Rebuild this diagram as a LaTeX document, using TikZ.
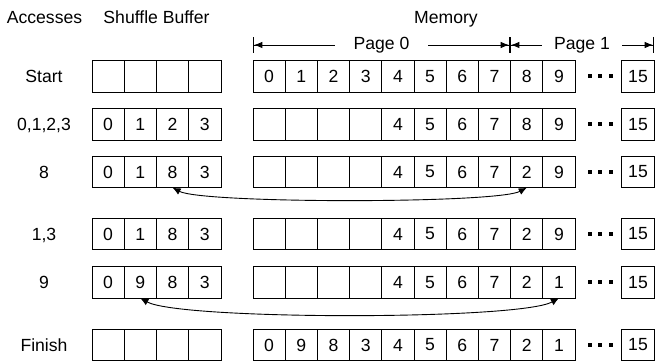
\documentclass[tikz,border=0pt]{standalone}
\usepackage{fontspec}
\setmainfont{Liberation Sans}
\usetikzlibrary{arrows.meta}
\tikzset{
  txt/.style={font=\fontsize{17.6}{20}\selectfont},
  cell/.style={txt, draw, line width=0.9pt, minimum width=32.2pt, minimum height=31.5pt, inner sep=0pt, outer sep=0pt},
  lbl/.style={txt, anchor=base, inner sep=0pt},
  swaparrow/.style={line width=0.9pt, {Latex[length=8pt,width=7pt]}-{Latex[length=8pt,width=7pt]}},
  dimline/.style={line width=0.9pt, {Bar[width=16pt]Latex[length=8.5pt,width=6.5pt]}-{Latex[length=8.5pt,width=6.5pt]Bar[width=16pt]}},
  gaplabel/.style={txt, fill=white, inner ysep=2pt},
  dot/.style={fill, inner sep=0pt, minimum size=4pt, outer sep=0pt}
}
\newcommand\cellrow[4]{%
  \foreach \v [count=\i from 0] in {#3} {\node[cell] (#1b\i) at ({108.125+32.25*\i},#2) {\v};}
  \foreach \v [count=\i from 0] in {#4} {\node[cell] (#1m\i) at ({269.1+32.2*\i},#2) {\v};}
  \node[cell] (#1m15) at (638,#2) {15};
  \node[dot] (#1d1) at (589.5,#2) {};
  \node[dot] (#1d2) at (600,#2) {};
  \node[dot] (#1d3) at (610.5,#2) {};
}
\begin{document}
\begin{tikzpicture}[x=1pt,y=-1pt]
\useasboundingbox (0,0) rectangle (656,363);
% headers
\node[lbl] (hacc) at (44.5,23.3) {Accesses};
\node[lbl] (hbuf) at (156.5,23.3) {Shuffle Buffer};
\node[lbl] (hmem) at (446,23.3) {Memory};
% page dimension lines
\coordinate (p0) at (253,45);
\coordinate (p1) at (510,45);
\coordinate (p2) at (654,45);
\draw[dimline] (p0) -- node[gaplabel, inner xsep=19pt] (pg0) {Page 0} (p1);
\draw[dimline] (p1) -- node[gaplabel, inner xsep=12.5pt] (pg1) {Page 1} (p2);
% rows
\node[lbl] (l1) at (44,82.8) {Start};
\cellrow{ra}{76.5}{{},{},{},{}}{0,1,2,3,4,5,6,7,8,9}
\node[lbl] (l2) at (44,130.8) {0,1,2,3};
\cellrow{rb}{124.5}{0,1,2,3}{{},{},{},{},4,5,6,7,8,9}
\node[lbl] (l3) at (44,178.3) {8};
\cellrow{rc}{172}{0,1,8,3}{{},{},{},{},4,5,6,7,2,9}
\node[lbl] (l4) at (44,240.3) {1,3};
\cellrow{rd}{234}{0,1,8,3}{{},{},{},{},4,5,6,7,2,9}
\node[lbl] (l5) at (44,288.8) {9};
\cellrow{re}{282.5}{0,9,8,3}{{},{},{},{},4,5,6,7,2,1}
\node[lbl] (l6) at (44,351.3) {Finish};
\cellrow{rf}{345}{{},{},{},{}}{0,9,8,3,4,5,6,7,2,1}
% swap arrows
\draw[swaparrow] (rcb2.south) .. controls +(30,16) and +(-30,16) .. (rcm8.south);
\draw[swaparrow] (reb1.south) .. controls +(40,22) and +(-40,22) .. (rem9.south);
\end{tikzpicture}
\end{document}
